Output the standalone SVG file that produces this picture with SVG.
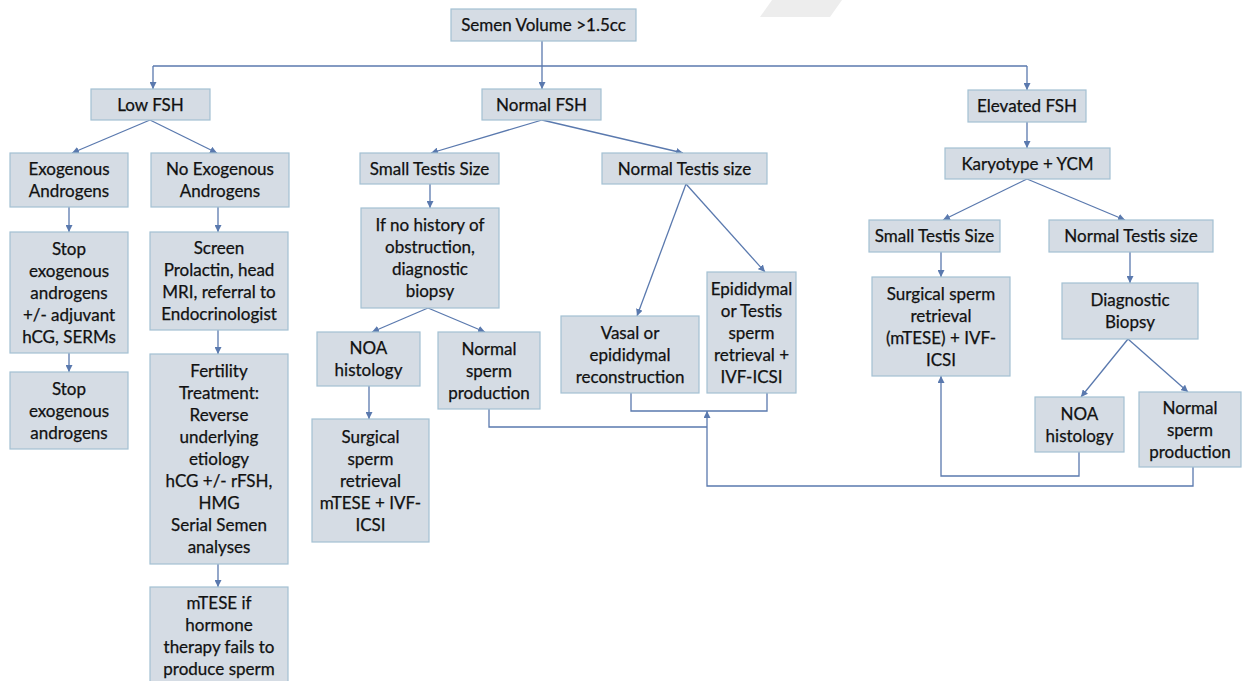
<svg xmlns="http://www.w3.org/2000/svg" width="1243" height="681" viewBox="0 0 1243 681">
<defs>
<style>
.box{fill:#d5dce4;stroke:#a3c0d3;stroke-width:1.2}
.t{font-family:Lato,"Liberation Sans",sans-serif;font-size:17px;fill:#111111;stroke:#111111;stroke-width:0.25;text-anchor:middle}
.c{fill:none;stroke:#5a79ae;stroke-width:1.3}
.a{marker-end:url(#ah)}
</style>
<marker id="ah" viewBox="0 0 10 10" refX="10" refY="5" markerWidth="7" markerHeight="7" markerUnits="userSpaceOnUse" orient="auto">
<path d="M0,0 L10,5 L0,10 z" fill="#5a79ae"/>
</marker>
</defs>
<rect width="1243" height="681" fill="#ffffff"/>
<polygon points="772,0 842,0 830,17 760,17" fill="#ededed"/>
<g id="connectors">
<path class="c a" d="M542,41 V89"/>
<path class="c" d="M153,66 H1027"/>
<path class="c a" d="M153,66 V89"/>
<path class="c a" d="M1027,66 V90"/>
<path class="c a" d="M1027,122 V148"/>
<path class="c a" d="M150,120 L72,153"/>
<path class="c a" d="M150,120 L217,153"/>
<path class="c a" d="M69,207 V232"/>
<path class="c a" d="M69,353 V372"/>
<path class="c a" d="M218,207 V232"/>
<path class="c a" d="M218,330 V354"/>
<path class="c a" d="M218,564 V587"/>
<path class="c a" d="M542,120 L431,153"/>
<path class="c a" d="M542,120 L683,153"/>
<path class="c a" d="M430,184 V208"/>
<path class="c a" d="M428,308 L372,332"/>
<path class="c a" d="M428,308 L485,332"/>
<path class="c a" d="M369,386 V419"/>
<path class="c a" d="M686,184 L637,316"/>
<path class="c a" d="M686,184 L765,272"/>
<path class="c" d="M631,393 V411 H767 V393"/>
<path class="c" d="M489,409 V427 H707"/>
<path class="c a" d="M1193,467 V486 H707 V411"/>
<path class="c a" d="M1027,179 L943,220"/>
<path class="c a" d="M1027,179 L1125,220"/>
<path class="c a" d="M941,252 V277"/>
<path class="c a" d="M1130,252 V283"/>
<path class="c a" d="M1128,339 L1081,397"/>
<path class="c a" d="M1128,339 L1188,392"/>
<path class="c a" d="M1079,452 V476 H941 V376"/>
</g>
<g id="n-semen"><rect class="box" x="451" y="9" width="185" height="32"/><text class="t" x="543.5" y="31">Semen Volume &gt;1.5cc</text></g>
<g id="n-lowfsh"><rect class="box" x="91" y="89" width="119" height="31"/><text class="t" x="150.5" y="110.5">Low FSH</text></g>
<g id="n-normalfsh"><rect class="box" x="482" y="89" width="119" height="31"/><text class="t" x="541.5" y="110.5">Normal FSH</text></g>
<g id="n-elevfsh"><rect class="box" x="968" y="90" width="118" height="32"/><text class="t" x="1027" y="112">Elevated FSH</text></g>
<g id="n-karyo"><rect class="box" x="945" y="148" width="165" height="31"/><text class="t" x="1027.5" y="169.5">Karyotype + YCM</text></g>
<g id="n-exo"><rect class="box" x="10" y="153" width="118" height="54"/><text class="t" x="69" y="175"><tspan x="69">Exogenous</tspan><tspan x="69" dy="22">Androgens</tspan></text></g>
<g id="n-noexo"><rect class="box" x="151" y="153" width="138" height="54"/><text class="t" x="220" y="175"><tspan x="220">No Exogenous</tspan><tspan x="220" dy="22">Androgens</tspan></text></g>
<g id="n-stop1"><rect class="box" x="10" y="232" width="118" height="121"/><text class="t" x="69" y="254.5"><tspan x="69">Stop</tspan><tspan x="69" dy="22">exogenous</tspan><tspan x="69" dy="22">androgens</tspan><tspan x="69" dy="22">+/- adjuvant</tspan><tspan x="69" dy="22">hCG, SERMs</tspan></text></g>
<g id="n-screen"><rect class="box" x="150" y="232" width="138" height="98"/><text class="t" x="219" y="254"><tspan x="219">Screen</tspan><tspan x="219" dy="22">Prolactin, head</tspan><tspan x="219" dy="22">MRI, referral to</tspan><tspan x="219" dy="22">Endocrinologist</tspan></text></g>
<g id="n-stop2"><rect class="box" x="10" y="372" width="118" height="77"/><text class="t" x="69" y="394.5"><tspan x="69">Stop</tspan><tspan x="69" dy="22">exogenous</tspan><tspan x="69" dy="22">androgens</tspan></text></g>
<g id="n-fert"><rect class="box" x="150" y="354" width="138" height="210"/><text class="t" x="219" y="377"><tspan x="219">Fertility</tspan><tspan x="219" dy="22">Treatment:</tspan><tspan x="219" dy="22">Reverse</tspan><tspan x="219" dy="22">underlying</tspan><tspan x="219" dy="22">etiology</tspan><tspan x="219" dy="22">hCG +/- rFSH,</tspan><tspan x="219" dy="22">HMG</tspan><tspan x="219" dy="22">Serial Semen</tspan><tspan x="219" dy="22">analyses</tspan></text></g>
<g id="n-mtese"><rect class="box" x="150" y="587" width="138" height="100"/><text class="t" x="219" y="609"><tspan x="219">mTESE if</tspan><tspan x="219" dy="22">hormone</tspan><tspan x="219" dy="22">therapy fails to</tspan><tspan x="219" dy="22">produce sperm</tspan></text></g>
<g id="n-small1"><rect class="box" x="360" y="153" width="139" height="31"/><text class="t" x="429.5" y="174.5">Small Testis Size</text></g>
<g id="n-normt1"><rect class="box" x="602" y="153" width="165" height="31"/><text class="t" x="684.5" y="174.5">Normal Testis size</text></g>
<g id="n-ifno"><rect class="box" x="361" y="208" width="138" height="100"/><text class="t" x="430" y="231"><tspan x="430">If no history of</tspan><tspan x="430" dy="22">obstruction,</tspan><tspan x="430" dy="22">diagnostic</tspan><tspan x="430" dy="22">biopsy</tspan></text></g>
<g id="n-noa1"><rect class="box" x="317" y="332" width="103" height="54"/><text class="t" x="368.5" y="354"><tspan x="368.5">NOA</tspan><tspan x="368.5" dy="22">histology</tspan></text></g>
<g id="n-nsp1"><rect class="box" x="438" y="332" width="102" height="77"/><text class="t" x="489" y="354.5"><tspan x="489">Normal</tspan><tspan x="489" dy="22">sperm</tspan><tspan x="489" dy="22">production</tspan></text></g>
<g id="n-surg1"><rect class="box" x="312" y="419" width="117" height="123"/><text class="t" x="370.5" y="442.5"><tspan x="370.5">Surgical</tspan><tspan x="370.5" dy="22">sperm</tspan><tspan x="370.5" dy="22">retrieval</tspan><tspan x="370.5" dy="22">mTESE + IVF-</tspan><tspan x="370.5" dy="22">ICSI</tspan></text></g>
<g id="n-vasal"><rect class="box" x="561" y="316" width="138" height="77"/><text class="t" x="630" y="338.5"><tspan x="630">Vasal or</tspan><tspan x="630" dy="22">epididymal</tspan><tspan x="630" dy="22">reconstruction</tspan></text></g>
<g id="n-epid"><rect class="box" x="707" y="272" width="89" height="121"/><text class="t" x="751.5" y="294.5"><tspan x="751.5">Epididymal</tspan><tspan x="751.5" dy="22">or Testis</tspan><tspan x="751.5" dy="22">sperm</tspan><tspan x="751.5" dy="22">retrieval +</tspan><tspan x="751.5" dy="22">IVF-ICSI</tspan></text></g>
<g id="n-small2"><rect class="box" x="869" y="220" width="131" height="32"/><text class="t" x="934.5" y="242">Small Testis Size</text></g>
<g id="n-normt2"><rect class="box" x="1049" y="220" width="164" height="32"/><text class="t" x="1131" y="242">Normal Testis size</text></g>
<g id="n-surg2"><rect class="box" x="872" y="277" width="138" height="99"/><text class="t" x="941" y="299.5"><tspan x="941">Surgical sperm</tspan><tspan x="941" dy="22">retrieval</tspan><tspan x="941" dy="22">(mTESE) + IVF-</tspan><tspan x="941" dy="22">ICSI</tspan></text></g>
<g id="n-diag"><rect class="box" x="1062" y="283" width="136" height="56"/><text class="t" x="1130" y="306"><tspan x="1130">Diagnostic</tspan><tspan x="1130" dy="22">Biopsy</tspan></text></g>
<g id="n-noa2"><rect class="box" x="1035" y="397" width="89" height="55"/><text class="t" x="1079.5" y="419.5"><tspan x="1079.5">NOA</tspan><tspan x="1079.5" dy="22">histology</tspan></text></g>
<g id="n-nsp2"><rect class="box" x="1139" y="392" width="102" height="75"/><text class="t" x="1190" y="413.5"><tspan x="1190">Normal</tspan><tspan x="1190" dy="22">sperm</tspan><tspan x="1190" dy="22">production</tspan></text></g>
</svg>
